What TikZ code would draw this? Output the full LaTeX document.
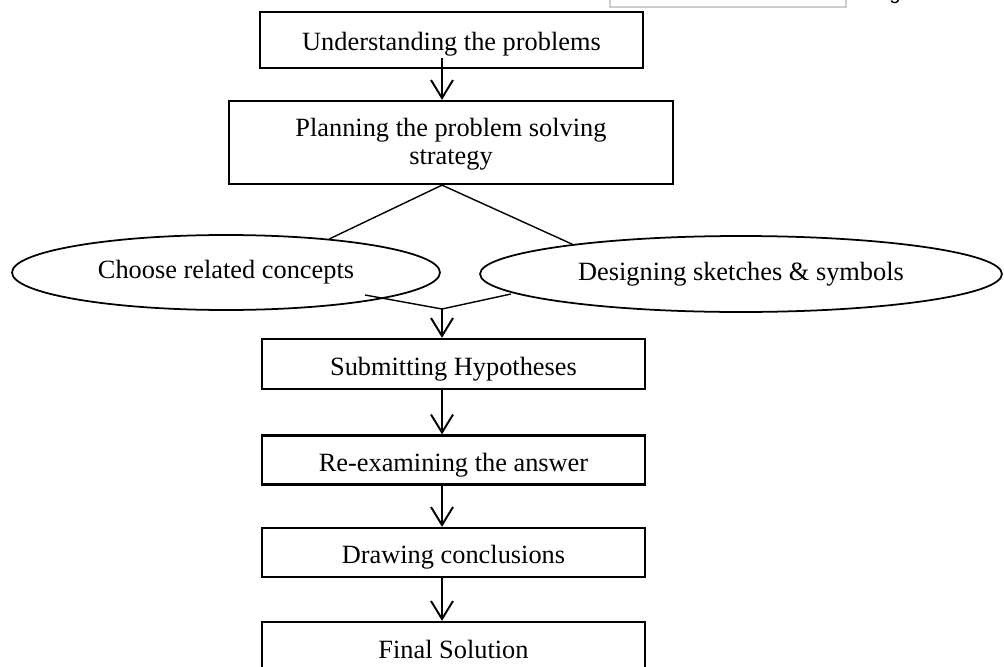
\documentclass[tikz,border=0pt]{standalone}
\usepackage{fontspec}
\setmainfont{Liberation Serif}
\newfontfamily\sansfont{Liberation Sans}
\usetikzlibrary{shapes.geometric,arrows.meta}

\begin{document}
\begin{tikzpicture}[x=0.02cm,y=-0.02cm,
    box/.style={draw,line width=1.3pt,inner sep=0pt,minimum width=7.66cm,minimum height=1cm,
        text height=0.54cm,text depth=0.1cm,font=\fontsize{15}{16}\selectfont},
    oval/.style={draw,ellipse,line width=1pt,inner sep=0pt,font=\fontsize{15}{16}\selectfont},
    flow/.style={line width=1.1pt,-{Straight Barb[length=0.36cm,width=0.44cm]}},
    link/.style={line width=0.8pt}]
    \useasboundingbox (0,0) rectangle (1004,666);
    \clip (0,0) rectangle (1004,666);
    % steps
    \node[box,minimum height=1.12cm] (under) at (451.5,40) {Understanding the problems};
    \node[box,minimum width=8.88cm,minimum height=1.66cm,text height=1.1cm,text depth=0.2cm,align=center] (plan) at (451,142.5) {Planning the problem solving\\strategy};
    \node[oval,minimum width=8.56cm,minimum height=1.5cm] (choose) at (226,272.5) {Choose related concepts};
    \node[oval,minimum width=10.44cm,minimum height=1.52cm] (design) at (741,274) {Designing sketches \& symbols};
    \node[box] (submit) at (453.5,364) {Submitting Hypotheses};
    \node[box,minimum height=0.98cm] (recheck) at (453.5,460) {Re-examining the answer};
    \node[box,minimum height=0.98cm] (concl) at (453.5,552.5) {Drawing conclusions};
    \node[box] (final) at (453.5,647) {Final Solution};
    % cut-off bits at the top
    \draw[gray!40,line width=0.6pt] (610,-20) rectangle (846,7);
    \node[font=\sansfont\fontsize{11.5}{13}\selectfont,anchor=base,inner sep=0pt] (gee) at (895,0) {g};
    % connectors
    \coordinate (axis) at (442,0);
    \coordinate (join) at (442,309);
    \coordinate (cfoot) at (365,295);
    \coordinate (dfoot) at (511,294);
    \coordinate (ustart) at ([yshift=0.22cm]under.south);
    \draw[flow] (ustart -| axis) -- (plan.north -| axis);
    \draw[link] (plan.south -| axis) -- (choose.18);
    \draw[link] (plan.south -| axis) -- (design.170);
    \draw[link] (cfoot) -- (join) -- (dfoot);
    \draw[flow] (join) -- (join |- submit.north);
    \draw[flow] (submit.south -| axis) -- (recheck.north -| axis);
    \draw[flow] (recheck.south -| axis) -- (concl.north -| axis);
    \draw[flow] (concl.south -| axis) -- (final.north -| axis);
\end{tikzpicture}
\end{document}
